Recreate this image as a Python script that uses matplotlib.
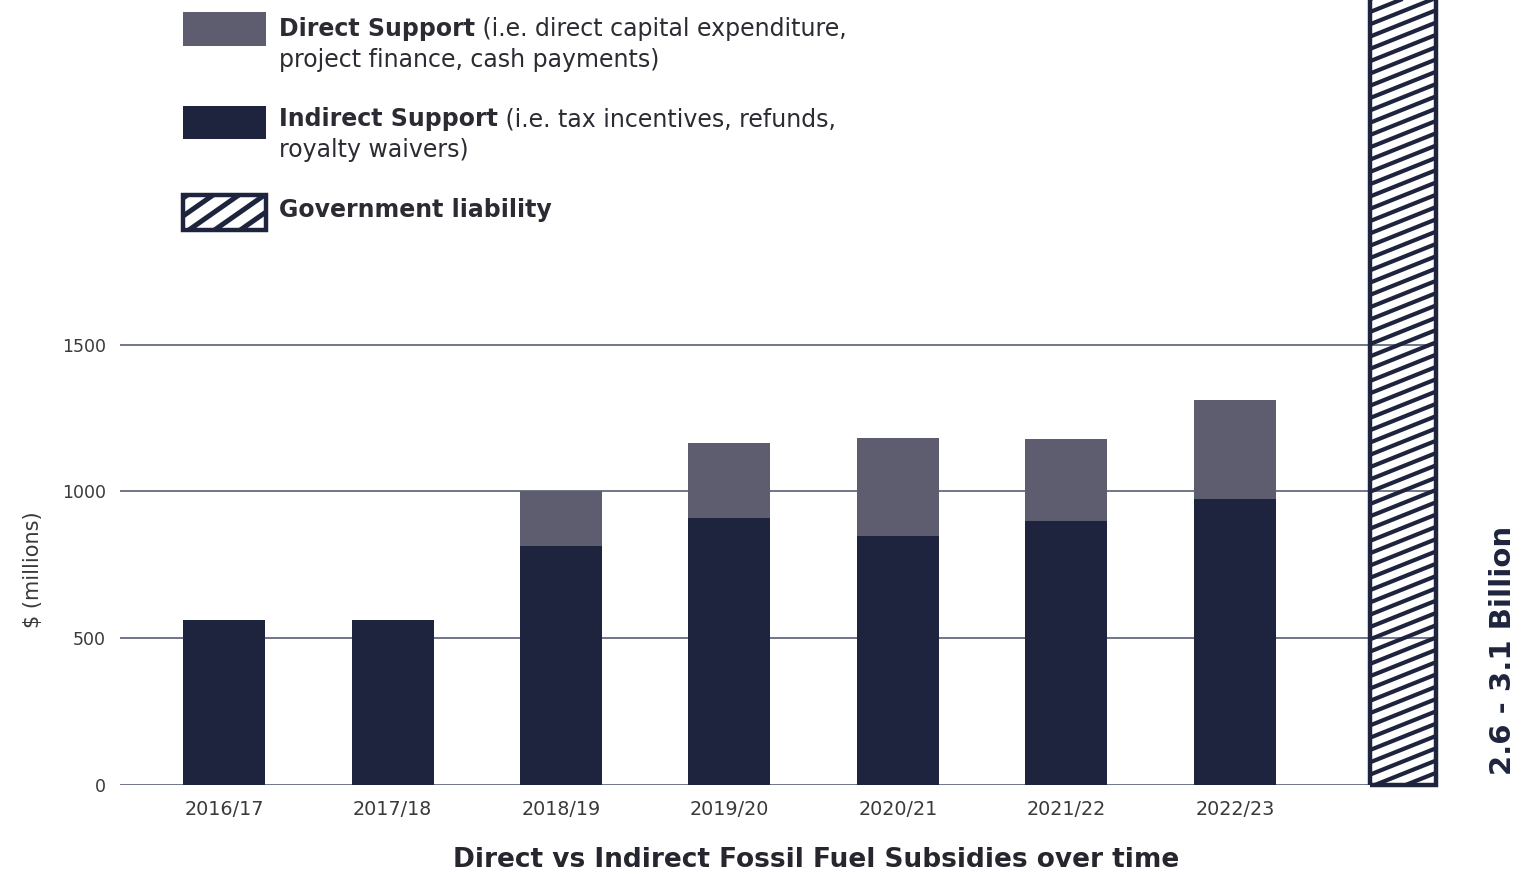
import matplotlib
matplotlib.use("Agg")
import matplotlib.pyplot as plt
from matplotlib.lines import Line2D
from matplotlib.patches import Rectangle
from matplotlib.transforms import IdentityTransform
import numpy as np

# fossil fuel subsidies, $ millions
years = ["2016/17", "2017/18", "2018/19", "2019/20", "2020/21", "2021/22", "2022/23"]
indirect = [563, 563, 815, 909, 847, 900, 975]
direct = [0, 0, 188, 257, 336, 280, 335]
liability_range = [2600, 3100]
yticks = [0, 500, 1000, 1500]

NAVY = "#1e243d"
SLATE = "#5e5d70"
GRID = "#4a5068"
TEXT = "#2b2b33"

W, H = 1526, 874
plt.rcParams["font.family"] = ["DejaVu Sans"]

fig = plt.figure(figsize=(W / 100, H / 100), dpi=100)


def px(x, y):
    # pixel position measured from the top-left corner -> figure fraction
    return x / W, (H - y) / H


ax = fig.add_axes([120 / W, 89 / H, 1317 / W, 785 / H])
x = np.arange(len(years))
bar_w = 0.487

ax.bar(x, indirect, width=bar_w, color=NAVY, zorder=2)
ax.bar(x, direct, bottom=indirect, width=bar_w, color=SLATE, zorder=2)

# liability bar runs off the top of the chart
lx = len(years)
lb = ax.bar(lx, liability_range[1], width=0.392, facecolor="none",
            edgecolor=NAVY, linewidth=3.2, zorder=4, clip_on=False)[0]

ax.set_xlim(-0.618, 7.2)
ax.set_ylim(0, 2674)
ax.set_yticks(yticks)
ax.set_xticks(x)
ax.set_xticklabels(years)
ax.grid(axis="y", color=GRID, linewidth=1.1, zorder=0)
ax.set_axisbelow(True)
for s in ax.spines.values():
    s.set_visible(False)
ax.tick_params(axis="y", length=0, pad=10, labelsize=12.5, labelcolor="#3a3a3a")
ax.tick_params(axis="x", length=0, pad=11, labelsize=13.8, labelcolor="#3a3a3a")


def add_hatch(target, clip, x0, x1, y0, y1, slope, step, lw, zorder):
    span = slope * (x1 - x0)
    for c in np.arange(y0 - span - step, y1 + step, step):
        ln = Line2D([x0, x1], [c, c + span], transform=IdentityTransform(),
                    color=NAVY, linewidth=lw, solid_capstyle="butt", zorder=zorder)
        ln.set_clip_path(clip)
        if hasattr(target, "add_line"):
            target.add_line(ln)
        else:
            target.add_artist(ln)


(bx0, by0), (bx1, by1) = ax.transData.transform(
    [(lx - 0.196, 0), (lx + 0.196, liability_range[1])])
add_hatch(ax, lb, bx0, bx1, by0, min(by1, H + 20), 0.4, 12.3, 3.0, 3)

# legend, drawn by hand so the bold lead-in can sit inline
renderer = fig.canvas.get_renderer()
legend_fs = 17

fig.patches.append(Rectangle(px(183, 46), 83 / W, 34 / H, transform=fig.transFigure,
                             facecolor=SLATE, edgecolor="none"))
fig.patches.append(Rectangle(px(183, 139), 83 / W, 33 / H, transform=fig.transFigure,
                             facecolor=NAVY, edgecolor="none"))
sw = Rectangle(px(183, 230), 83 / W, 35 / H, transform=fig.transFigure,
               facecolor="none", edgecolor=NAVY, linewidth=3.2)
fig.patches.append(sw)
add_hatch(fig, sw, 183, 266, H - 230, H - 195, 0.7, 18, 3.6, 1)

entries = [
    (36, "Direct Support", " (i.e. direct capital expenditure,", "project finance, cash payments)"),
    (126, "Indirect Support", " (i.e. tax incentives, refunds,", "royalty waivers)"),
    (217, "Government liability", "", None),
]
for base, bold, rest, second in entries:
    t = fig.text(*px(279, base), bold, fontsize=legend_fs, color=TEXT,
                 va="baseline", ha="left", fontweight="semibold")
    if rest:
        bb = t.get_window_extent(renderer)
        fig.text(bb.x1 / W, (H - base) / H, rest, fontsize=legend_fs, color=TEXT,
                 va="baseline", ha="left")
    if second:
        fig.text(*px(279, base + 31), second, fontsize=legend_fs, color=TEXT,
                 va="baseline", ha="left")

fig.text(*px(33, 570), "$ (millions)", rotation=90, ha="center", va="center",
         fontsize=15, color="#3a3a3a")
fig.text(*px(1503, 775), "2.6 - 3.1 Billion", rotation=90, ha="center", va="bottom",
         fontsize=21, color=NAVY, fontweight="semibold")
fig.text(*px(816, 860), "Direct vs Indirect Fossil Fuel Subsidies over time",
         ha="center", va="center", fontsize=19, fontweight="bold", color="#26262e")

fig.savefig("out.png", dpi=100)
